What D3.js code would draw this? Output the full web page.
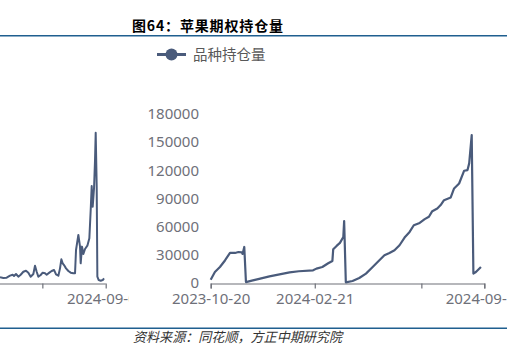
<!DOCTYPE html>
<html><head><meta charset="utf-8">
<script src="https://cdn.jsdelivr.net/npm/d3@7"></script>
<style>
html,body{margin:0;padding:0;background:#fff;}
svg{display:block;}
</style></head>
<body>
<svg id="c" width="507" height="355"></svg>
<script>
// ---- data (right chart: 品种持仓量) ----
const dates = ["2023-10-20","2023-10-25","2023-10-31","2023-11-06","2023-11-12","2023-11-18","2023-11-22","2023-11-26","2023-11-27","2023-11-29","2023-12-01",
"2023-12-08","2023-12-18","2023-12-29","2024-01-10","2024-01-22","2024-02-02","2024-02-19","2024-02-23","2024-03-01","2024-03-08","2024-03-13","2024-03-14",
"2024-03-18","2024-03-22","2024-03-26","2024-03-27","2024-03-29","2024-04-06","2024-04-14","2024-04-22","2024-04-30","2024-05-08","2024-05-14","2024-05-20",
"2024-05-26","2024-06-01","2024-06-07","2024-06-13","2024-06-18","2024-06-25","2024-07-01","2024-07-06","2024-07-10","2024-07-16","2024-07-20","2024-07-24",
"2024-08-01","2024-08-05","2024-08-11","2024-08-17","2024-08-21","2024-08-23","2024-08-26","2024-08-28","2024-08-31","2024-09-06"];
const values = [3500,11700,17000,24000,32000,32000,33000,32700,31000,38400,1000,
2500,4600,7100,9250,11400,12500,13500,15300,17000,21000,23500,36000,
39500,42700,49000,66000,700,2100,5300,10000,17000,24200,29500,32000,
34900,40200,48400,54400,61500,64000,68000,70500,76500,79400,83000,88200,
91100,100700,106000,119600,120300,127400,157600,10000,11700,17000];
const yTicks = [0,30000,60000,90000,120000,150000,180000];
const xTickDates = ["2023-10-20","2024-02-21","2024-06-27","2024-09-10"];
const xTickLabels = ["2023-10-20","2024-02-21","","2024-09-10"];
const seriesName = "品种持仓量";
const title = "图64：苹果期权持仓量";
const source = "资料来源：同花顺，方正中期研究院";

// ---- data (left, partially visible neighbouring chart) ----
const leftDays = [0,10,20,30,38,42,48,55,62,70,78,85,92,100,105,110,115,122,128,135,140,148,155,162,168,175,180,184,188,192,198,205,212,220,225,228,235,240,242,246,250,255,262,268,272,275,278,282,285,287,290,292,296,302,308,312];
const leftValues = [5000,4300,4600,6800,7800,6400,8600,5700,7800,11000,12100,10000,5700,8600,17500,11000,5700,7500,10000,9300,7800,10000,11800,12900,8200,6800,14600,24300,20000,18200,14600,11800,10000,9300,9300,34300,50400,37900,20000,37900,30000,35400,38900,46800,77100,102900,80700,100400,130700,160000,102100,5700,2100,1400,2100,3900];
const leftTickDays = [127,317];
const leftTickLabels = ["","2024-09-06"];

const lineColor = "#4a5b7b";
const axisColor = "#6e7079";
const labelColor = "#6e7079";
const font = "'Noto Sans', 'Noto Sans CJK SC', sans-serif";

const svg = d3.select("#c");
const parse = d3.timeParse("%Y-%m-%d");
const data = dates.map((d,i)=>({date:parse(d), v:values[i]}));

// header / footer
svg.append("text").attr("x",132).attr("y",31).attr("font-family","'Noto Sans CJK SC', sans-serif")
  .attr("font-weight","bold").attr("font-size",14).attr("fill","#000")
  .attr("textLength",151).attr("lengthAdjust","spacing").text(title);
svg.append("line").attr("x1",0).attr("x2",507).attr("y1",35.7).attr("y2",35.7).attr("stroke","#1f5f8f").attr("stroke-width",1.4);
svg.append("line").attr("x1",0).attr("x2",507).attr("y1",328.3).attr("y2",328.3).attr("stroke","#1f5f8f").attr("stroke-width",1.4);
svg.append("text").attr("x",133).attr("y",342).attr("font-family","'Noto Sans CJK SC', sans-serif")
  .attr("font-style","italic").attr("font-size",13.5).attr("fill","#333")
  .attr("textLength",209).attr("lengthAdjust","spacingAndGlyphs").text(source);

// ---- left partial chart ----
const clip = svg.append("clipPath").attr("id","lc").append("rect").attr("x",0).attr("y",40).attr("width",129).attr("height",280);
const lg = svg.append("g").attr("clip-path","url(#lc)");
const lx = d3.scaleLinear().domain([0,317]).range([0,105.7]);
const ly = d3.scaleLinear().domain([0,180000]).range([282,114]);
lg.append("path").datum(leftDays.map((d,i)=>[d,leftValues[i]]))
  .attr("fill","none").attr("stroke",lineColor).attr("stroke-width",2).attr("stroke-linejoin","round")
  .attr("d",d3.line().x(d=>lx(d[0])).y(d=>ly(d[1])));
const lAxis = lg.append("g").attr("transform","translate(0,283.5)")
  .call(d3.axisBottom(lx).tickValues(leftTickDays).tickFormat((d,i)=>leftTickLabels[i]).tickSizeOuter(0).tickSize(5).tickPadding(4));
lAxis.select(".domain").attr("d","M-10,0.5H"+lx(317)).attr("stroke",axisColor).attr("stroke-width",1.2);

// ---- right chart ----
const x = d3.scaleTime().domain([parse("2023-10-20"),parse("2024-09-10")]).range([210.7,484.3]);
const y = d3.scaleLinear().domain([0,180000]).range([283,114]);

const yAxis = svg.append("g").attr("transform","translate(199,0)")
  .call(d3.axisLeft(y).tickValues(yTicks).tickSize(0).tickPadding(0).tickFormat(d3.format("d")));
yAxis.select(".domain").remove();

const xAxis = svg.append("g").attr("transform","translate(0,283.5)")
  .call(d3.axisBottom(x).tickValues(xTickDates.map(parse)).tickFormat((d,i)=>xTickLabels[i]).tickSizeOuter(0).tickSize(5).tickPadding(4));
xAxis.select(".domain").attr("stroke",axisColor).attr("stroke-width",1.2);

[lAxis,xAxis,yAxis].forEach(a=>{
  a.selectAll("text").attr("font-family",font).attr("font-size",15).attr("fill",labelColor);
  a.selectAll(".tick line").attr("stroke",axisColor).attr("stroke-width",1.2);
});
xAxis.selectAll("text").attr("dy","0.75em");
lAxis.selectAll("text").attr("dy","0.75em");

svg.append("path").datum(data).attr("fill","none").attr("stroke",lineColor).attr("stroke-width",2.2)
  .attr("stroke-linejoin","round")
  .attr("d",d3.line().x(d=>x(d.date)).y(d=>y(d.v)));

// legend
const lgd = svg.append("g").attr("transform","translate(157,54.5)");
lgd.append("line").attr("x1",0).attr("x2",29).attr("y1",0).attr("y2",0).attr("stroke",lineColor).attr("stroke-width",3);
lgd.append("circle").attr("cx",14.5).attr("cy",0).attr("r",6).attr("fill",lineColor);
lgd.append("text").attr("x",36).attr("y",0).attr("dy","0.35em").attr("font-family",font)
  .attr("font-size",14.5).attr("fill","#595959").text(seriesName);
</script>
</body></html>
